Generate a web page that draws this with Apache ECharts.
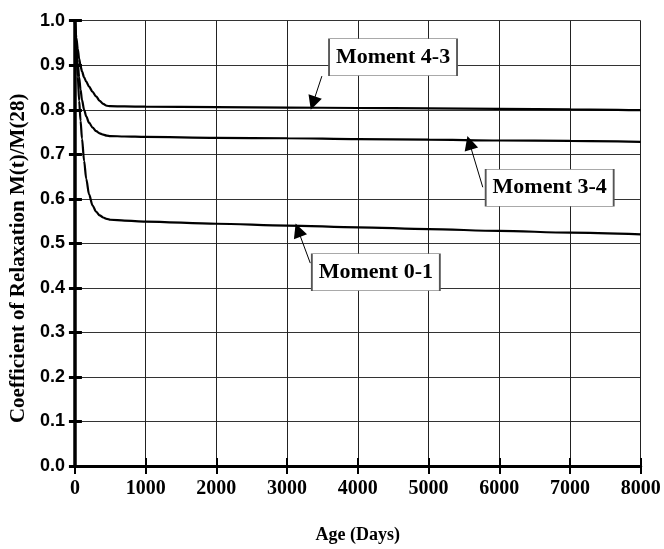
<!DOCTYPE html>
<html>
<head>
<meta charset="utf-8">
<script src="https://cdn.jsdelivr.net/npm/echarts@6/dist/echarts.min.js"></script>
<style>
html,body{margin:0;padding:0;background:#fff;}
#chart{width:664px;height:549px;}
</style>
</head>
<body>
<div id="chart"></div>
<script>
// ---- data ----
var days = [0, 20, 40, 60, 80, 100, 130, 160, 200, 250, 300, 350, 400, 450, 500, 700, 1000, 2000, 3000, 4000, 5000, 6000, 7000, 8000];
var moment43 = [1.0, 0.962, 0.937, 0.915, 0.898, 0.886, 0.873, 0.863, 0.852, 0.840, 0.830, 0.820, 0.813, 0.809, 0.808, 0.8075, 0.807, 0.806, 0.805, 0.804, 0.803, 0.802, 0.801, 0.799];
var moment34 = [1.0, 0.945, 0.905, 0.873, 0.845, 0.822, 0.800, 0.785, 0.771, 0.760, 0.752, 0.747, 0.744, 0.742, 0.741, 0.740, 0.739, 0.737, 0.736, 0.734, 0.733, 0.731, 0.730, 0.728];
var moment01 = [1.0, 0.935, 0.875, 0.82, 0.775, 0.735, 0.685, 0.645, 0.61, 0.585, 0.571, 0.563, 0.558, 0.555, 0.553, 0.551, 0.549, 0.544, 0.540, 0.536, 0.532, 0.528, 0.524, 0.520];
var seriesNames = ['Moment 4-3', 'Moment 3-4', 'Moment 0-1'];
// annotation anchors in data coordinates: [boxX, boxY, arrowTailX, arrowTailY, arrowTipX, arrowTipY]
var notes43 = [4498, 0.918, 3492, 0.8756, 3366, 0.815];
var notes34 = [6713, 0.625, 5767, 0.626, 5578, 0.726];
var notes01 = [4255, 0.435, 3328, 0.4556, 3155, 0.5296];
var xTicks = {min: 0, max: 8000, step: 1000};
var yTicks = {min: 0, max: 1, step: 0.1};

var serif = '"Liberation Serif", "Times New Roman", serif';
var sans = '"Liberation Sans", Arial, sans-serif';

function pairs(vals) {
  return days.map(function (d, i) { return [d, vals[i]]; });
}
function makeSeries(name, vals, note) {
  return {
    name: name,
    type: 'line',
    data: pairs(vals),
    xAxisIndex: 0,
    yAxisIndex: 0,
    smooth: 0.3,
    smoothMonotone: 'x',
    showSymbol: false,
    symbol: 'none',
    lineStyle: {color: '#000', width: 2.2},
    silent: true,
    z: 3,
    markLine: {
      silent: true,
      symbol: ['none', 'triangle'],
      symbolSize: 14,
      lineStyle: {color: '#000', width: 1, type: 'solid'},
      itemStyle: {color: '#000'},
      label: {show: false},
      emphasis: {disabled: true},
      data: [[{coord: [note[2], note[3]]}, {coord: [note[4], note[5]]}]]
    },
    markPoint: {
      silent: true,
      symbol: 'rect',
      symbolSize: [128, 37],
      itemStyle: {color: '#fff', borderColor: '#555', borderWidth: 1},
      label: {
        show: true, position: 'inside', formatter: name,
        color: '#000', fontFamily: serif, fontWeight: 'bold', fontSize: 22
      },
      emphasis: {disabled: true},
      data: [{coord: [note[0], note[1]]}]
    }
  };
}

var chart = echarts.init(document.getElementById('chart'), null, {renderer: 'canvas'});
var grid = {left: 71.7, right: 23.3, top: 20.7, bottom: 79};
chart.setOption({
  animation: false,
  backgroundColor: '#fff',
  grid: grid,
  xAxis: [{
    type: 'value', min: xTicks.min, max: xTicks.max, interval: xTicks.step,
    name: 'Age (Days)', nameLocation: 'middle', nameGap: 60,
    nameTextStyle: {fontFamily: serif, fontWeight: 'bold', fontSize: 18, color: '#000'},
    axisLine: {show: true, onZero: false, lineStyle: {color: '#000', width: 3}},
    axisTick: {show: true, length: 8, lineStyle: {color: '#000', width: 2}},
    axisLabel: {margin: 13, fontFamily: serif, fontWeight: 'bold', fontSize: 20, color: '#000',
      formatter: function (v) { return String(v); }},
    splitLine: {show: true, lineStyle: {color: '#222', width: 1}}
  }, {
    type: 'value', min: xTicks.min, max: xTicks.max, interval: xTicks.step, position: 'bottom',
    axisLine: {show: false},
    axisTick: {show: true, inside: true, length: 8, lineStyle: {color: '#000', width: 2}},
    axisLabel: {show: false},
    splitLine: {show: false}
  }],
  yAxis: [{
    type: 'value', min: yTicks.min, max: yTicks.max, interval: yTicks.step,
    name: 'Coefficient of Relaxation M(t)/M(28)', nameLocation: 'middle', nameGap: 44,
    nameTextStyle: {fontFamily: serif, fontWeight: 'bold', fontSize: 21, color: '#000',
      padding: [0, 30, 0, 0]},
    axisLine: {show: true, onZero: false, lineStyle: {color: '#000', width: 3.5}},
    axisTick: {show: true, length: 6, lineStyle: {color: '#000', width: 3}},
    axisLabel: {margin: 10, fontFamily: sans, fontWeight: 'bold', fontSize: 18, color: '#000',
      formatter: function (v) { return v.toFixed(1); }},
    splitLine: {show: true, lineStyle: {color: '#333', width: 1}}
  }, {
    type: 'value', min: yTicks.min, max: yTicks.max, interval: yTicks.step, position: 'left',
    axisLine: {show: false},
    axisTick: {show: true, inside: true, length: 7, lineStyle: {color: '#000', width: 3}},
    axisLabel: {show: false},
    splitLine: {show: false}
  }],
  series: [
    makeSeries(seriesNames[0], moment43, notes43),
    makeSeries(seriesNames[1], moment34, notes34),
    makeSeries(seriesNames[2], moment01, notes01)
  ]
});
</script>
</body>
</html>
